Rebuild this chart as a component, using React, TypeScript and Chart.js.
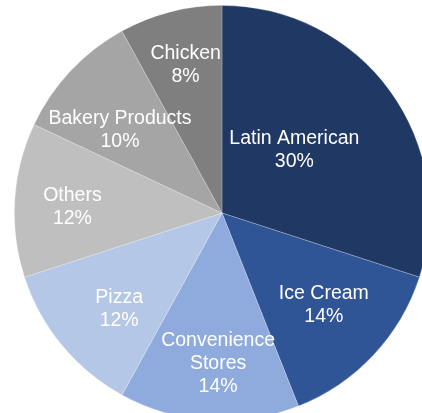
import React, { useEffect, useRef } from "react";
import { Chart, registerables } from "chart.js";

Chart.register(...registerables);

const categories: (string | string[])[] = [
  "Latin American",
  "Ice Cream",
  ["Convenience", "Stores"],
  "Pizza",
  "Others",
  "Bakery Products",
  "Chicken",
];
const shares: number[] = [30, 14, 14, 12, 12, 10, 8];
const sliceColors: string[] = [
  "#203864",
  "#2F5597",
  "#8FAADC",
  "#B4C7E7",
  "#BFBFBF",
  "#A5A5A5",
  "#7F7F7F",
];

// label placement: fraction of radius and small angular nudge (degrees)
const labelPlacement = [
  { f: 0.466, da: -5.6 },
  { f: 0.659, da: -1.3 },
  { f: 0.721, da: -2.1 },
  { f: 0.675, da: -3.2 },
  { f: 0.721, da: -1.1 },
  { f: 0.635, da: -3.9 },
  { f: 0.74, da: 0.7 },
];

const labelPlugin = {
  id: "sliceLabels",
  afterDatasetsDraw(chart: any) {
    const meta = chart.getDatasetMeta(0);
    const ctx = chart.ctx;
    ctx.save();
    ctx.fillStyle = "#ffffff";
    ctx.font = '19.5px "Liberation Sans", Arial, sans-serif';
    ctx.textAlign = "center";
    ctx.textBaseline = "middle";
    const lineH = 22.8;
    meta.data.forEach((arc: any, i: number) => {
      const p = arc.getProps(["x", "y", "startAngle", "endAngle", "outerRadius"], true);
      const place = labelPlacement[i] || { f: 0.65, da: 0 };
      const mid = (p.startAngle + p.endAngle) / 2 + (place.da * Math.PI) / 180;
      const cx = p.x + Math.cos(mid) * p.outerRadius * place.f;
      const cy = p.y + Math.sin(mid) * p.outerRadius * place.f + 1;
      const cat = categories[i];
      const lines = (Array.isArray(cat) ? cat.slice() : [cat]).concat([`${shares[i]}%`]);
      const top = cy - ((lines.length - 1) * lineH) / 2;
      lines.forEach((t, k) => ctx.fillText(t, cx, top + k * lineH));
    });
    ctx.restore();
  },
};

export default function App() {
  const ref = useRef<HTMLCanvasElement | null>(null);
  useEffect(() => {
    if (!ref.current) return;
    const chart = new Chart(ref.current, {
      type: "pie",
      data: {
        labels: categories as any,
        datasets: [
          {
            data: shares,
            backgroundColor: sliceColors,
            borderColor: "rgba(255,255,255,0.3)",
            borderWidth: 0.75,
          },
        ],
      },
      options: {
        responsive: false,
        animation: false,
        layout: { padding: 0 },
        plugins: { legend: { display: false }, tooltip: { enabled: false } },
      },
      plugins: [labelPlugin],
    });
    return () => chart.destroy();
  }, []);
  return (
    <div
      style={{
        position: "fixed",
        left: 0,
        top: 0,
        width: 422,
        height: 413,
        overflow: "hidden",
        background: "#ffffff",
      }}
    >
      <div style={{ position: "absolute", left: 14, top: 5, width: 416, height: 416 }}>
        <canvas ref={ref} width={416} height={416} style={{ width: 416, height: 416 }} />
      </div>
    </div>
  );
}
